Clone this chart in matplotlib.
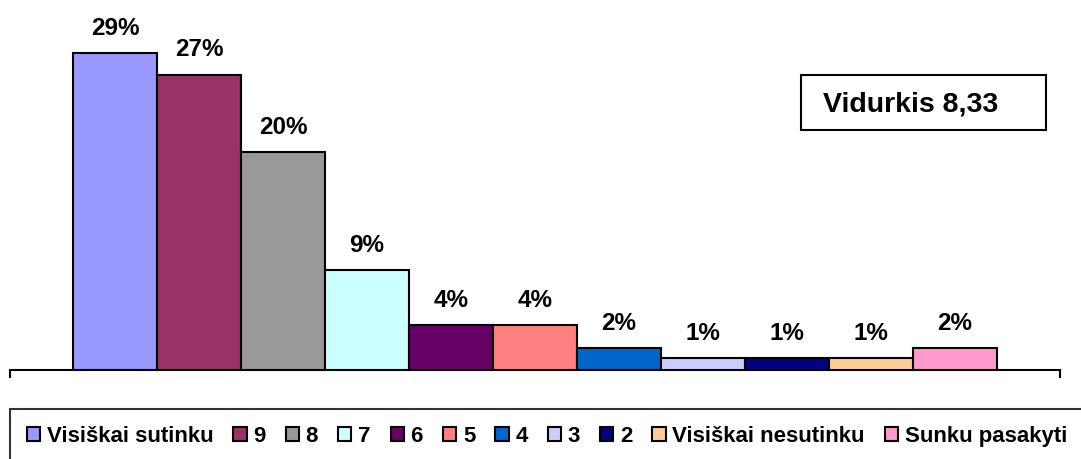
import matplotlib.pyplot as plt
import matplotlib.patches as mpatches

plt.rcParams['font.family'] = ['Liberation Sans', 'DejaVu Sans']
plt.rcParams['font.weight'] = 'bold'

categories = ['Visiškai sutinku', '9', '8', '7', '6', '5', '4', '3', '2',
              'Visiškai nesutinku', 'Sunku pasakyti']
values = [28.95, 27.0, 19.9, 9.1, 4.1, 4.1, 2.0, 1.1, 1.1, 1.1, 2.0]
labels = ['29%', '27%', '20%', '9%', '4%', '4%', '2%', '1%', '1%', '1%', '2%']
colors = ['#9999FF', '#993366', '#999999', '#CCFFFF', '#660066', '#FF8080',
          '#0066CC', '#CCCCFF', '#000080', '#FFCC99', '#FF99CC']
mean_text = 'Vidurkis 8,33'

W, H = 1081, 459
fig = plt.figure(figsize=(W / 100, H / 100), dpi=100)
# axes: x from px 10 to 1060, baseline at px 370
ax = fig.add_axes([10 / W, (H - 370) / H, 1050 / W, 361 / H])
ax.set_xlim(-1.25, 11.25)
ax.set_ylim(0, 33)

x = list(range(len(values)))
bars = ax.bar(x, values, width=1.0, color=colors, edgecolor='black',
              linewidth=1.5, zorder=3)
for xi, v, lab in zip(x, values, labels):
    ax.annotate(lab, (xi, v), xytext=(0, 9.5), textcoords='offset points',
                ha='center', va='bottom', fontsize=17.5, fontweight='bold')

for s in ['top', 'right', 'left']:
    ax.spines[s].set_visible(False)
ax.spines['bottom'].set_linewidth(1.5)
ax.set_yticks([])
ax.set_xticks([-1.25, 11.25])
ax.set_xticklabels(['', ''])
ax.tick_params(axis='x', direction='out', length=6, width=1.5)

# mean box
fig.patches.append(mpatches.Rectangle((801 / W, (H - 130) / H), 245 / W, 55 / H,
                                      transform=fig.transFigure, fill=False,
                                      edgecolor='black', linewidth=1.5))
fig.text(911 / W, (H - 104) / H, mean_text, ha='center', va='center',
         fontsize=20.5, fontweight='bold')

handles = [mpatches.Patch(facecolor=c, edgecolor='black', linewidth=1.5) for c in colors]
leg = fig.legend(handles, categories, loc='upper left',
                 bbox_to_anchor=(10 / W, (H - 409) / H), ncol=11,
                 fontsize=16, frameon=True, fancybox=False,
                 handlelength=0.6, handleheight=0.6, handletextpad=0.3,
                 columnspacing=0.9, borderpad=0.75, borderaxespad=0)
leg.get_frame().set_edgecolor('black')
leg.get_frame().set_linewidth(1.5)
for t in leg.get_texts():
    t.set_fontweight('bold')

fig.savefig('out.png', dpi=100)
